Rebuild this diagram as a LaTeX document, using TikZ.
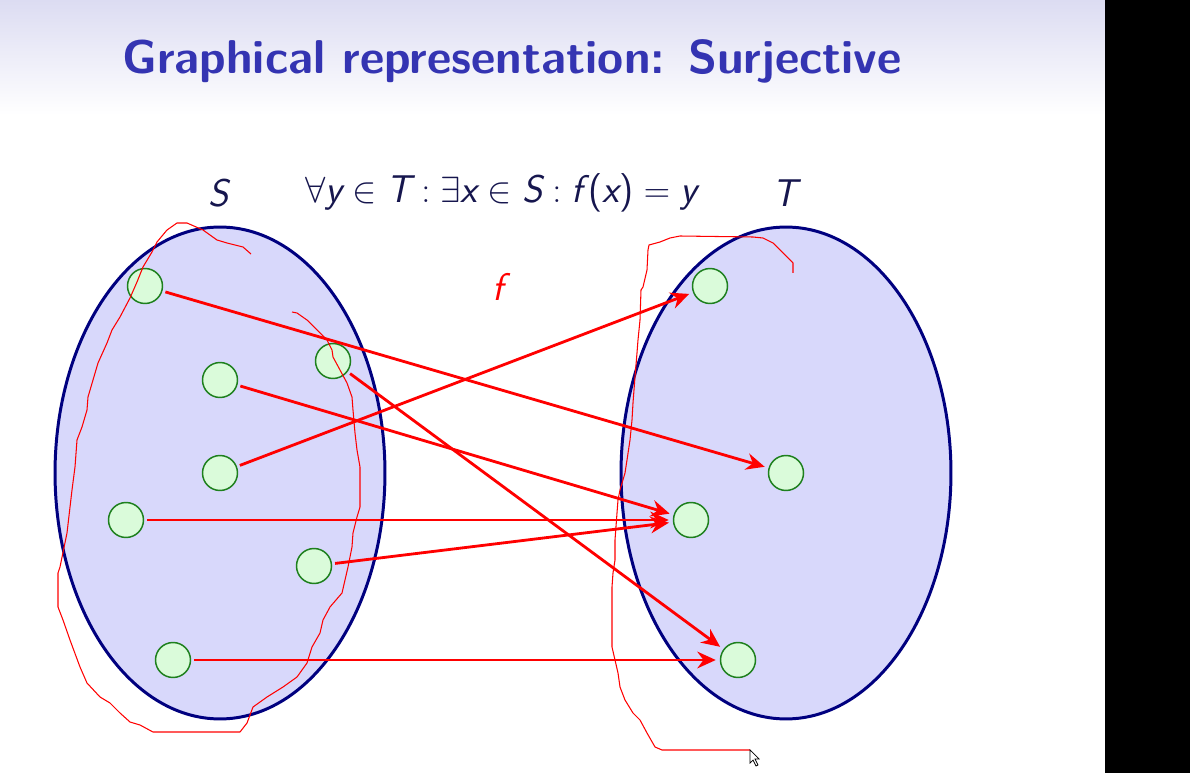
\documentclass[tikz,border=0pt]{standalone}
\usepackage{fontspec}
\usepackage{tikz}
\usetikzlibrary{arrows.meta,positioning,shapes.geometric}
\definecolor{SlideTitle}{HTML}{3434B2}
\definecolor{SlideInk}{HTML}{16164E}
\definecolor{SlideTop}{HTML}{DCDCF2}
\definecolor{SetFill}{HTML}{D8D8FB}
\definecolor{SetEdge}{HTML}{00007F}
\definecolor{ElemFill}{HTML}{DAFBDA}
\definecolor{ElemEdge}{HTML}{1E801E}
\newcommand{\sv}[1]{\textsf{\itshape #1}}

\begin{document}
\begin{tikzpicture}[
  x=0.02cm,y=-0.02cm,
  setbody/.style={ellipse,draw=SetEdge,fill=SetFill,line width=1.7pt,minimum width=6.6cm,minimum height=9.84cm},
  elem/.style={circle,draw=ElemEdge,fill=ElemFill,line width=0.85pt,minimum size=0.7cm,inner sep=0pt},
  map/.style={-{Stealth[length=10.5pt,width=9.5pt,inset=3.5pt]},red,line width=1.6pt,shorten <=0.06cm,shorten >=0.08cm},
  scribble/.style={red,line width=0.6pt,line join=round},
  lbl/.style={text=SlideInk,font=\fontsize{22}{26}\selectfont},
]
\useasboundingbox (0,0) rectangle (1190,773);
\fill[white] (0,0) rectangle (1190,773);
\shade[top color=SlideTop,bottom color=white] (0,0) rectangle (1105,115);
\fill[black] (1105,0) rectangle (1190,773);
\node[anchor=base west,inner sep=0pt,text=SlideTitle,font=\sffamily\bfseries\fontsize{27}{32}\selectfont] (title) at (122,74) {Graphical representation: Surjective};

% the two sets
\node[setbody] (setS) at (220,473) {};
\node[setbody] (setT) at (786,473) {};
\node[lbl] (nameS) at (220,193) {\sv{S}};
\node[lbl] (nameT) at (787,193) {\sv{T}};
\node[lbl] (rule) at (501,193) {$\forall\sv{y}\in\sv{T}:\exists\sv{x}\in\sv{S}:\sv{f}\mkern3mu\textsf{(}\sv{x}\textsf{)}=\sv{y}$};
\node[lbl,text=red] (fname) at (502,287) {\sv{f}};

% elements of S
\node[elem] (s1) at (145,286) {};
\node[elem] (s2) at (333,361) {};
\node[elem] (s3) at (220,380) {};
\node[elem] (s4) at (220,473) {};
\node[elem] (s5) at (126,520) {};
\node[elem] (s6) at (314,566) {};
\node[elem] (s7) at (173,660) {};
% elements of T
\node[elem] (t1) at (710,286) {};
\node[elem] (t2) at (786,473) {};
\node[elem] (t3) at (691,520) {};
\node[elem] (t4) at (738,660) {};

\draw[map] (s1) -- (t2);
\draw[map] (s2) -- (t4);
\draw[map] (s3) -- (t3);
\draw[map] (s4) -- (t1);
\draw[map] (s5) -- (t3);
\draw[map] (s6) -- (t3);
\draw[map] (s7) -- (t4);

% hand-drawn marks
\draw[scribble] (251,254) -- (243,247) -- (227,243) -- (217,240) -- (203,230) -- (187,223) -- (177,223) -- (167,230) -- (157,242) -- (152,252) -- (143,267) -- (137,282) -- (130,298) -- (120,317) -- (112,330) -- (107,343) -- (98,363) -- (93,380) -- (88,397) -- (87,410) -- (82,427) -- (77,440) -- (75,467) -- (72,490) -- (67,533) -- (60,567) -- (58,573) -- (58,607) -- (63,620) -- (70,640) -- (80,667) -- (87,683) -- (100,697) -- (110,703) -- (120,713) -- (130,722) -- (140,725) -- (153,732) -- (240,732) -- (247,723) -- (253,707) -- (267,697) -- (283,687) -- (297,677) -- (307,663) -- (312,647) -- (320,633) -- (323,620) -- (330,607) -- (342,593) -- (345,580) -- (348,567) -- (352,547) -- (353,533) -- (357,517) -- (360,507) -- (360,467) -- (357,450) -- (355,433) -- (353,410) -- (352,397) -- (347,383) -- (340,370) -- (333,357) -- (332,350) -- (327,340) -- (317,330) -- (307,320) -- (297,313) -- (292,312);
\draw[scribble] (793,273) -- (793,263) -- (788,258) -- (782,252) -- (773,243) -- (763,238) -- (753,237) -- (680,236) -- (670,238) -- (660,242) -- (649,245) -- (648,250) -- (647,270) -- (643,287) -- (641,290) -- (640,320) -- (638,340) -- (637,353) -- (635,377) -- (633,403) -- (632,420) -- (630,440) -- (627,460) -- (625,473) -- (620,490) -- (618,500) -- (617,513) -- (615,540) -- (615,560) -- (613,573) -- (612,587) -- (612,647) -- (615,660) -- (618,673) -- (620,687) -- (625,700) -- (633,713) -- (640,720) -- (647,733) -- (655,747) -- (662,750) -- (750,750);

% mouse pointer
\filldraw[fill=white,draw=black,line width=0.4pt] (750,750) -- (750,763) -- (753,760) -- (756,766) -- (758,765) -- (755,759) -- (759,759) -- cycle;
\end{tikzpicture}
\end{document}
